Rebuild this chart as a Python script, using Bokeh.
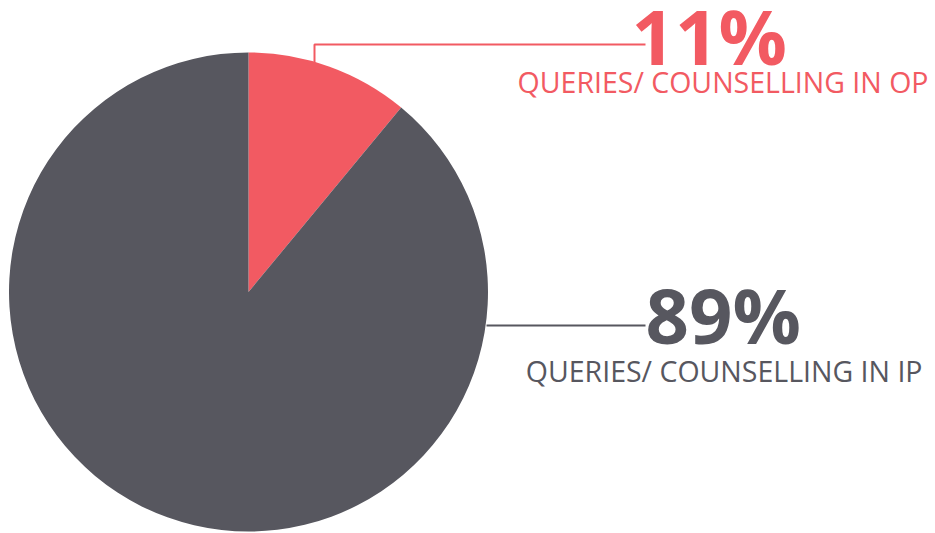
import math
from bokeh.plotting import figure
from bokeh.models import Range1d, ColumnDataSource
from bokeh.core.properties import value
from bokeh.embed import file_html
from bokeh.resources import INLINE

# data
categories = ["QUERIES/ COUNSELLING IN OP", "QUERIES/ COUNSELLING IN IP"]
percents = [11, 89]
pct_labels = ["11%", "89%"]
colors = ["#F25A62", "#57575F"]

W, H = 935, 533

def Y(py):  # image pixel row -> data y
    return H - py

def X(px):
    return px

def Yt(py, size):  # baseline compensation for svg text
    return Y(py - 0.37 * size)

p = figure(width=W, height=H, output_backend="svg", toolbar_location=None,
           x_range=Range1d(0, W), y_range=Range1d(0, H), min_border=0)
p.axis.visible = False
p.grid.visible = False
p.outline_line_color = None
p.background_fill_color = "white"
p.border_fill_color = "white"

cx, cy, r = X(248), Y(291.5), 239.5
total = sum(percents)
start = math.pi / 2
starts, ends = [], []
for v in percents:
    ang = v / total * 2 * math.pi
    starts.append(start)
    ends.append(start - ang)
    start -= ang
src = ColumnDataSource(dict(start=starts, end=ends, color=colors))
p.wedge(x=cx, y=cy, radius=r, start_angle="start", end_angle="end",
        direction="clock", fill_color="color", line_color=None, source=src)

# leader lines
p.line(x=[X(314), X(314), X(645)], y=[Y(62), Y(44), Y(44)],
       line_color=colors[0], line_width=2)
p.line(x=[X(486), X(645)], y=[Y(325), Y(325)],
       line_color=colors[1], line_width=2)

BIG, SMALL = 76, 28.5
# percent labels
p.text(x=[X(631)], y=[Yt(63, BIG)], text=[pct_labels[0]], text_color=colors[0],
       text_font=value("Open Sans"), text_font_style="bold",
       text_font_size=f"{BIG}px", text_baseline="alphabetic", text_align="left")
p.text(x=[X(645)], y=[Yt(342, BIG)], text=[pct_labels[1]], text_color=colors[1],
       text_font=value("Open Sans"), text_font_style="bold",
       text_font_size=f"{BIG}px", text_baseline="alphabetic", text_align="left")

p.text(x=[X(928)], y=[Yt(92, SMALL)], text=[categories[0]], text_color=colors[0],
       text_font=value("Open Sans"), text_font_size=f"{SMALL}px",
       text_baseline="alphabetic", text_align="right")
p.text(x=[X(922)], y=[Yt(381, SMALL)], text=[categories[1]], text_color=colors[1],
       text_font=value("Open Sans"), text_font_size=f"{SMALL}px",
       text_baseline="alphabetic", text_align="right")

open("out.html", "w").write(file_html(p, INLINE))
